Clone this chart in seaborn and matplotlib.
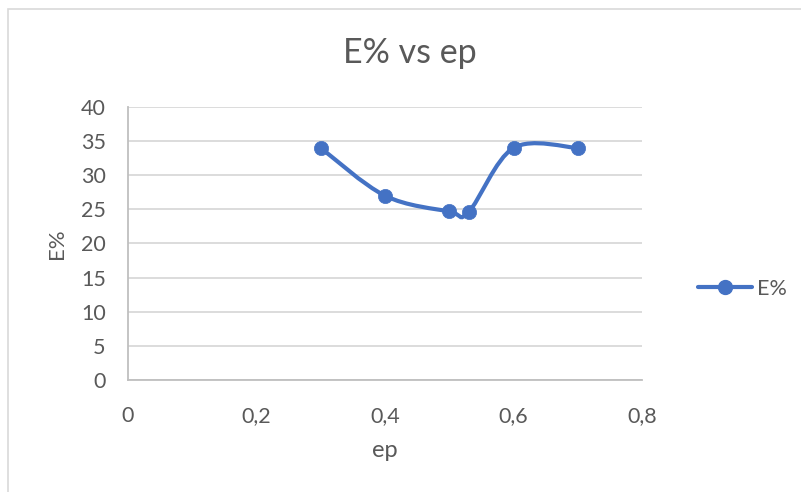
import matplotlib
matplotlib.use("Agg")
import matplotlib.pyplot as plt
from matplotlib.path import Path
from matplotlib.patches import PathPatch, Rectangle
from matplotlib.lines import Line2D
import numpy as np
import pandas as pd
import seaborn as sns

# Data
ep = [0.30, 0.40, 0.50, 0.53, 0.60, 0.70]
e_pct = [34.0, 27.0, 24.7, 24.6, 34.0, 34.0]
x_ticks = [0, 0.2, 0.4, 0.6, 0.8]
x_tick_labels = ["0", "0,2", "0,4", "0,6", "0,8"]
y_ticks = [0, 5, 10, 15, 20, 25, 30, 35, 40]
series_name = "E%"

sns.set_theme(style="white")
plt.rcParams["font.family"] = ["Lato", "DejaVu Sans"]

TEXT = "#595959"
BLUE = "#4472C4"
GRID = "#d9d9d9"

fig = plt.figure(figsize=(8.01, 4.92), dpi=100)
ax = fig.add_axes([128 / 801, 1 - 380 / 492, (642 - 128) / 801, (380 - 107) / 492])

# Chart-area frame
fig.patches.append(Rectangle((8 / 801, -0.01), 1.0, 1 - 9 / 492 + 0.01,
                             transform=fig.transFigure, fill=False,
                             edgecolor=GRID, linewidth=1.2))

df = pd.DataFrame({"ep": ep, "E": e_pct})

# Smoothed connecting line: Catmull-Rom segments as cubic Bezier curves
pts = np.column_stack([df["ep"], df["E"]])
verts = [tuple(pts[0])]
codes = [Path.MOVETO]
n = len(pts)
for i in range(n - 1):
    p0 = pts[i - 1] if i > 0 else pts[i]
    p1 = pts[i]
    p2 = pts[i + 1]
    p3 = pts[i + 2] if i + 2 < n else pts[i + 1]
    c1 = p1 + (p2 - p0) / 6.0
    c2 = p2 - (p3 - p1) / 6.0
    verts += [tuple(c1), tuple(c2), tuple(p2)]
    codes += [Path.CURVE4] * 3
ax.add_patch(PathPatch(Path(verts, codes), facecolor="none", edgecolor=BLUE,
                       linewidth=3.0, capstyle="round", zorder=3))

sns.scatterplot(data=df, x="ep", y="E", ax=ax, color=BLUE, s=105,
                edgecolor=BLUE, linewidth=0.5, zorder=4, legend=False)

ax.set_xlim(0, 0.8)
ax.set_ylim(0, 40)
ax.set_xticks(x_ticks)
ax.set_xticklabels(x_tick_labels)
ax.set_yticks(y_ticks)
ax.yaxis.grid(True, color=GRID, linewidth=1.3)
ax.xaxis.grid(False)
ax.set_axisbelow(True)
for side in ["top", "right"]:
    ax.spines[side].set_visible(False)
for side in ["left", "bottom"]:
    ax.spines[side].set_color("#bfbfbf")
    ax.spines[side].set_linewidth(1.3)
ax.tick_params(axis="x", length=0, pad=19, labelsize=15.5, labelcolor=TEXT)
ax.tick_params(axis="y", length=0, pad=16, labelsize=15.5, labelcolor=TEXT)

ax.set_xlabel("ep", fontsize=17, color=TEXT, labelpad=10)
ax.set_ylabel("E%", fontsize=16, color=TEXT, labelpad=10)
fig.text(410 / 801, 1 - 53 / 492, "E% vs ep", ha="center", va="center",
         fontsize=24.5, color=TEXT)

handle = Line2D([], [], color=BLUE, linewidth=3.0, marker="o", markersize=10,
                markerfacecolor=BLUE, markeredgecolor=BLUE)
fig.legend([handle], [series_name], loc="center left",
           bbox_to_anchor=(698 / 801, 1 - 289 / 492), frameon=False,
           borderaxespad=0, borderpad=0,
           fontsize=15.5, labelcolor=TEXT, handlelength=2.5, handletextpad=0.25)

fig.savefig("out.png", dpi=100, facecolor="white")
